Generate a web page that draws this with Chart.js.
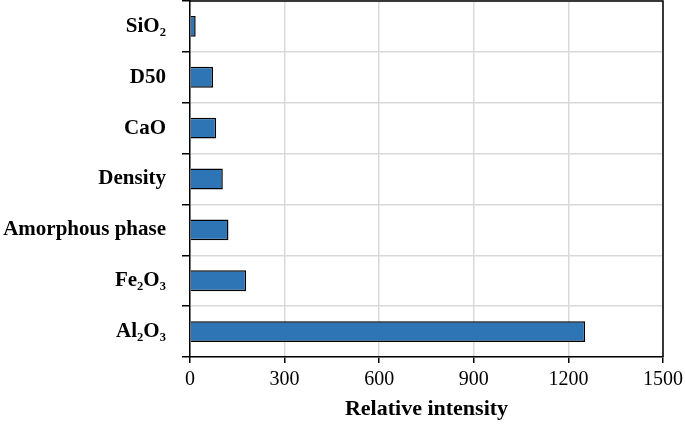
<!DOCTYPE html>
<html>
<head>
<meta charset="utf-8">
<script src="https://cdn.jsdelivr.net/npm/chart.js@4/dist/chart.umd.min.js"></script>
<style>
  html, body { margin: 0; padding: 0; background: #fff; }
  #wrap { width: 685px; height: 427px; }
</style>
</head>
<body>
<div id="wrap"><canvas id="chart"></canvas></div>
<script>
// データ（上から順）
const categories = ['SiO₂', 'D50', 'CaO', 'Density', 'Amorphous phase', 'Fe₂O₃', 'Al₂O₃'];
const intensity = [18, 73, 83, 104, 122, 178, 1253];
const xTicks = [0, 300, 600, 900, 1200, 1500];

// プロット枠（上・右）
const frame = {
    id: 'frame',
    afterDraw(chart) {
        const { ctx, chartArea: a } = chart;
        ctx.save();
        ctx.strokeStyle = '#000';
        ctx.lineWidth = 1.5;
        ctx.beginPath();
        ctx.moveTo(a.left, a.top);
        ctx.lineTo(a.right, a.top);
        ctx.lineTo(a.right, a.bottom);
        ctx.stroke();
        ctx.restore();
    }
};

new Chart(document.getElementById('chart'), {
    type: 'bar',
    data: {
        labels: categories,
        datasets: [{
            data: intensity,
            backgroundColor: '#2E75B6',
            borderColor: '#000',
            borderWidth: 1.5,
            barPercentage: 0.41,
            categoryPercentage: 1
        }]
    },
    options: {
        indexAxis: 'y',
        responsive: true,
        maintainAspectRatio: false,
        animation: false,
        layout: { padding: { top: 1, right: 22, left: 0, bottom: 0 } },
        plugins: { legend: { display: false }, tooltip: { enabled: false } },
        scales: {
            x: {
                min: 0,
                max: 1500,
                afterBuildTicks(axis) { axis.ticks = xTicks.map(v => ({ value: v })); },
                afterFit(axis) {
                    axis.height = 70;
                    axis.paddingLeft = 0;
                    axis.paddingRight = 0;
                },
                grid: { color: '#d9d9d9', lineWidth: 1.5, tickColor: '#000', tickLength: 6 },
                border: { color: '#000', width: 1.5 },
                ticks: {
                    color: '#000',
                    padding: 5,
                    callback: v => String(v),
                    font: { family: 'Liberation Serif', size: 20 }
                },
                title: {
                    display: true,
                    text: 'Relative intensity',
                    color: '#000',
                    padding: { top: 0 },
                    font: { family: 'Liberation Serif', size: 22, weight: 'bold' }
                }
            },
            y: {
                afterFit(axis) {
                    axis.width = 190;
                    axis.paddingTop = 0;
                    axis.paddingBottom = 0;
                },
                grid: { color: '#d9d9d9', lineWidth: 1.5, tickColor: '#000', tickLength: 8, offset: true },
                border: { color: '#000', width: 1.5 },
                ticks: {
                    color: '#000',
                    padding: 16,
                    font: { family: 'Liberation Serif', size: 21, weight: 'bold' }
                }
            }
        }
    },
    plugins: [frame]
});
</script>
</body>
</html>
